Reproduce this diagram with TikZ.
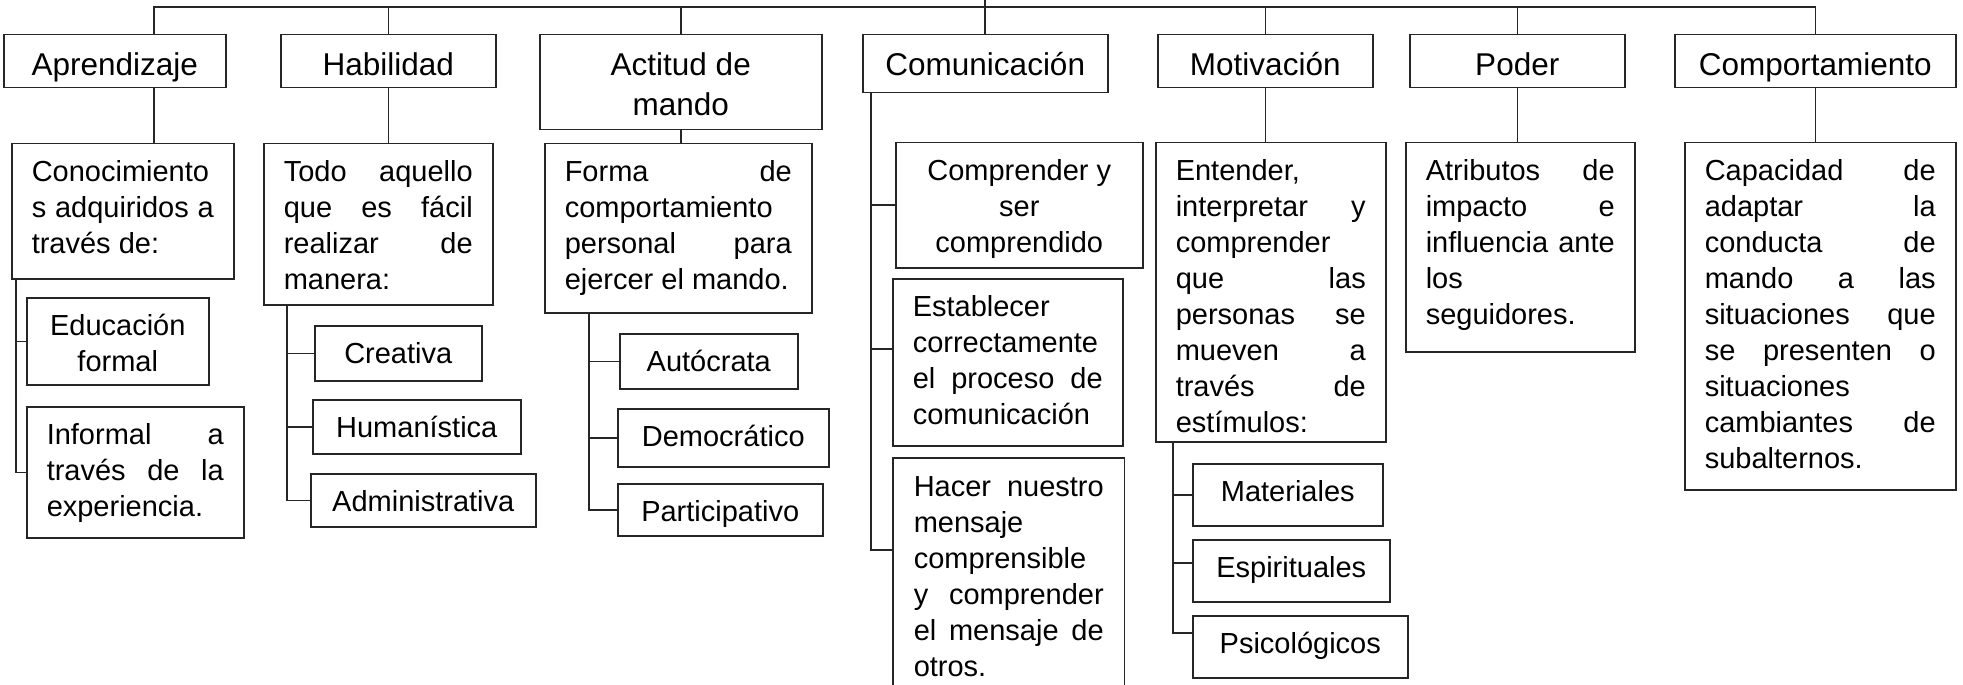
\documentclass[tikz,border=0pt]{standalone}
\usepackage{fontspec}
\setmainfont{Liberation Sans}
\usetikzlibrary{calc}
\tikzset{
  box/.style={draw=black!85, line width=0.6pt, inner xsep=8pt, inner ysep=5.2pt, anchor=north west,
    font=\fontsize{11.6pt}{14.4pt}\selectfont},
  hdr/.style={font=\fontsize{12.6pt}{16pt}\selectfont},
  ln/.style={draw=black!85, line width=0.6pt},
}
\newcommand{\J}[1]{\makebox[\linewidth][s]{\strut #1}}
% [style]{name}{x1}{y1}{x2}{y2}{alignment}{content}
\newcommand{\BX}[8][]{%
  \pgfmathsetmacro{\bxw}{(#5-#3)*0.4}%
  \pgfmathsetmacro{\bxh}{(#6-#4)*0.4}%
  \pgfmathsetmacro{\bxtw}{\bxw-16}%
  \pgfmathsetmacro{\bxth}{\bxh-10.4}%
  \node[box,#1,minimum width=\bxw pt,minimum height=\bxh pt] (#2) at (#3,#4)
    {\parbox[c][\bxth pt][t]{\bxtw pt}{#7\strut #8}};}
\begin{document}
\begin{tikzpicture}[x=0.4pt,y=-0.4pt]
\useasboundingbox (0,0) rectangle (1963,685);
% headers
\BX[hdr]{apr}{3}{34}{225}{87}{\centering}{Aprendizaje}
\BX[hdr]{hab}{280}{34}{495}{87}{\centering}{Habilidad}
\BX[hdr]{act}{539}{34}{821}{129}{\centering}{Actitud de\\mando}
\BX[hdr]{com}{862}{34}{1107}{92}{\centering}{Comunicación}
\BX[hdr]{mot}{1157}{34}{1372}{87}{\centering}{Motivación}
\BX[hdr]{pod}{1409}{34}{1624}{87}{\centering}{Poder}
\BX[hdr]{comp}{1674}{34}{1955}{87}{\centering}{Comportamiento}
% descriptions
\BX{con}{11}{143}{233}{278}{}{Conocimiento\\\J{s adquiridos a}\\través de:}
\BX{todo}{263}{143}{492}{304}{}{\J{Todo aquello}\\\J{que es fácil}\\\J{realizar de}\\manera:}
\BX{forma}{544}{143}{811}{312}{}{\J{Forma de}\\comportamiento\\\J{personal para}\\ejercer el mando.}
\BX{cmp}{895}{142}{1142}{267}{\centering}{Comprender y\\ser\\comprendido}
\BX{est}{892}{278}{1122}{445}{}{Establecer\\correctamente\\\J{el proceso de}\\comunicación}
\BX[draw=none]{hac}{893}{458}{1123}{685}{}{\J{Hacer nuestro}\\mensaje\\comprensible\\\J{y comprender}\\\J{el mensaje de}\\otros.}
\BX{ent}{1155}{142}{1385}{441}{}{Entender,\\\J{interpretar y}\\comprender\\\J{que las}\\\J{personas se}\\\J{mueven a}\\\J{través de}\\estímulos:}
\BX{atr}{1405}{142}{1634}{351}{}{\J{Atributos de}\\\J{impacto e}\\\J{influencia ante}\\los\\seguidores.}
\BX{cap}{1684}{142}{1955}{489}{}{\J{Capacidad de}\\\J{adaptar la}\\\J{conducta de}\\\J{mando a las}\\\J{situaciones que}\\\J{se presenten o}\\situaciones\\\J{cambiantes de}\\subalternos.}
% leaves
\BX{edu}{26}{297}{208}{384}{\centering}{Educación\\formal}
\BX{inf}{26}{406}{243}{537}{}{\J{Informal a}\\\J{través de la}\\experiencia.}
\BX{cre}{314}{325}{481}{380}{\centering}{Creativa}
\BX{hum}{312}{399}{520}{453}{\centering}{Humanística}
\BX{adm}{310}{473}{535}{526}{\centering}{Administrativa}
\BX{aut}{619}{333}{797}{388}{\centering}{Autócrata}
\BX{dem}{617}{408}{828}{466}{\centering}{Democrático}
\BX{par}{617}{483}{822}{535}{\centering}{Participativo}
\BX{mat}{1192}{463}{1382}{525}{\centering}{Materiales}
\BX{esp}{1192}{539}{1389}{601}{\centering}{Espirituales}
\BX{psi}{1192}{615}{1407}{677}{\centering}{Psicológicos}
\draw[ln] (hac.south west) -- (hac.north west) -- (hac.north east) -- (hac.south east);
% top connectors
\coordinate (L0) at (154,7);
\coordinate (root) at (985,0);
\draw[ln] (apr.north -| L0) -- (L0) -- (L0 -| comp.north) -- (comp.north);
\foreach \n in {hab,act,mot,pod} \draw[ln] (\n.north) -- (\n.north |- L0);
\draw[ln] (root) -- (root |- com.north);
% header to description
\draw[ln] (apr.south -| L0) -- (con.north -| L0);
\draw[ln] (hab.south) -- (hab.south |- todo.north);
\draw[ln] (act.south) -- (act.south |- forma.north);
\draw[ln] (mot.south) -- (mot.south |- ent.north);
\draw[ln] (pod.south) -- (pod.south |- atr.north);
\draw[ln] (comp.south) -- (comp.south |- cap.north);
% spines
\coordinate (sA) at (16,0);
\draw[ln] (con.south -| sA) |- (inf.west);
\draw[ln] (sA |- edu.west) -- (edu.west);
\coordinate (sH) at (287,0);
\draw[ln] (todo.south -| sH) |- (adm.west);
\draw[ln] (sH |- cre.west) -- (cre.west);
\draw[ln] (sH |- hum.west) -- (hum.west);
\coordinate (sF) at (589,0);
\draw[ln] (forma.south -| sF) |- (par.west);
\draw[ln] (sF |- aut.west) -- (aut.west);
\draw[ln] (sF |- dem.west) -- (dem.west);
\coordinate (sC) at (871,0);
\coordinate (hacC) at ($(hac.north west)+(0,92)$);
\coordinate (estC) at ($(est.north west)+(0,71)$);
\draw[ln] (com.south -| sC) |- (hacC);
\draw[ln] (sC |- cmp.west) -- (cmp.west);
\draw[ln] (sC |- estC) -- (estC);
\coordinate (sM) at (1173,0);
\coordinate (psiC) at ($(psi.north west)+(0,18)$);
\coordinate (espC) at ($(esp.north west)+(0,24)$);
\draw[ln] (ent.south -| sM) |- (psiC);
\draw[ln] (sM |- mat.west) -- (mat.west);
\draw[ln] (sM |- espC) -- (espC);
\end{tikzpicture}
\end{document}
